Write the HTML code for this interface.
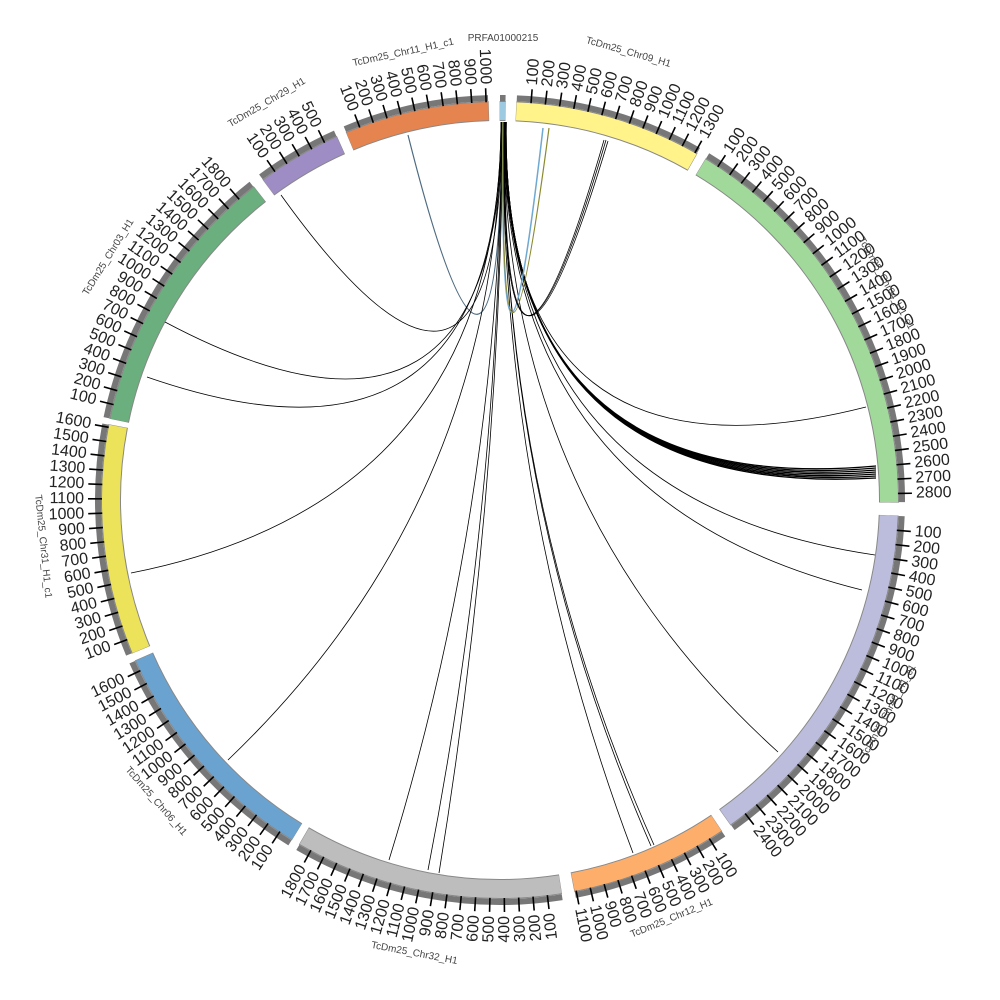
<!DOCTYPE html>
<html><head><meta charset="utf-8"><style>
html,body{margin:0;padding:0;background:#fff;width:1000px;height:1000px;overflow:hidden}
svg{display:block}
text{font-family:"Liberation Sans",sans-serif;fill:#222}
.R text,.L text{font-size:16px;dominant-baseline:central}
.R text{text-anchor:start}
.L text{text-anchor:end}
.nm{font-size:10px;fill:#444;text-anchor:middle}
.ch path{fill:none;stroke:#000;stroke-width:0.8}
</style></head><body>
<svg width="1000" height="1000" viewBox="0 0 1000 1000" xmlns="http://www.w3.org/2000/svg">
<defs><line id="tk" x1="500" y1="102" x2="500" y2="88" stroke="#000" stroke-width="1.6"/></defs>

<g fill="none" stroke="#888" stroke-width="20">
<circle cx="500" cy="500" r="389" stroke-dasharray="6 3000" transform="rotate(-90.05 500 500)"/>
<circle cx="500" cy="500" r="389" stroke-dasharray="185.5 3000" transform="rotate(-87.65 500 500)"/>
<circle cx="500" cy="500" r="389" stroke-dasharray="402.7 3000" transform="rotate(-58.95 500 500)"/>
<circle cx="500" cy="500" r="389" stroke-dasharray="355.9 3000" transform="rotate(2.25 500 500)"/>
<circle cx="500" cy="500" r="389" stroke-dasharray="156.9 3000" transform="rotate(56.15 500 500)"/>
<circle cx="500" cy="500" r="389" stroke-dasharray="266.3 3000" transform="rotate(81.05 500 500)"/>
<circle cx="500" cy="500" r="389" stroke-dasharray="236.4 3000" transform="rotate(121.45 500 500)"/>
<circle cx="500" cy="500" r="389" stroke-dasharray="228.2 3000" transform="rotate(157.35 500 500)"/>
<circle cx="500" cy="500" r="389" stroke-dasharray="272.4 3000" transform="rotate(191.75 500 500)"/>
<circle cx="500" cy="500" r="389" stroke-dasharray="84.3 3000" transform="rotate(233.45 500 500)"/>
<circle cx="500" cy="500" r="389" stroke-dasharray="143.4 3000" transform="rotate(247.25 500 500)"/>
</g>
<g fill="none" stroke-width="18">
<circle cx="500" cy="500" r="389" stroke="#9ecae1" stroke-dasharray="5.4 3000" transform="rotate(-90 500 500)"/>
<circle cx="500" cy="500" r="389" stroke="#fff38a" stroke-dasharray="184.7 3000" transform="rotate(-87.6 500 500)"/>
<circle cx="500" cy="500" r="389" stroke="#a1d99b" stroke-dasharray="401.9 3000" transform="rotate(-58.9 500 500)"/>
<circle cx="500" cy="500" r="389" stroke="#bcbddc" stroke-dasharray="355.1 3000" transform="rotate(2.3 500 500)"/>
<circle cx="500" cy="500" r="389" stroke="#fdae6b" stroke-dasharray="156.1 3000" transform="rotate(56.2 500 500)"/>
<circle cx="500" cy="500" r="389" stroke="#bdbdbd" stroke-dasharray="265.5 3000" transform="rotate(81.1 500 500)"/>
<circle cx="500" cy="500" r="389" stroke="#6ba3d0" stroke-dasharray="235.6 3000" transform="rotate(121.5 500 500)"/>
<circle cx="500" cy="500" r="389" stroke="#ede35a" stroke-dasharray="227.4 3000" transform="rotate(157.4 500 500)"/>
<circle cx="500" cy="500" r="389" stroke="#6aaf7d" stroke-dasharray="271.6 3000" transform="rotate(191.8 500 500)"/>
<circle cx="500" cy="500" r="389" stroke="#9e8cc4" stroke-dasharray="83.5 3000" transform="rotate(233.5 500 500)"/>
<circle cx="500" cy="500" r="389" stroke="#e6844f" stroke-dasharray="142.6 3000" transform="rotate(247.3 500 500)"/>
</g>
<g fill="none" stroke="#777" stroke-width="6">
<circle cx="500" cy="500" r="402" stroke-dasharray="5.6 3000" transform="rotate(-90 500 500)"/>
<circle cx="500" cy="500" r="402" stroke-dasharray="190.8 3000" transform="rotate(-87.6 500 500)"/>
<circle cx="500" cy="500" r="402" stroke-dasharray="415.3 3000" transform="rotate(-58.9 500 500)"/>
<circle cx="500" cy="500" r="402" stroke-dasharray="366.9 3000" transform="rotate(2.3 500 500)"/>
<circle cx="500" cy="500" r="402" stroke-dasharray="161.4 3000" transform="rotate(56.2 500 500)"/>
<circle cx="500" cy="500" r="402" stroke-dasharray="274.3 3000" transform="rotate(81.1 500 500)"/>
<circle cx="500" cy="500" r="402" stroke-dasharray="243.5 3000" transform="rotate(121.5 500 500)"/>
<circle cx="500" cy="500" r="402" stroke-dasharray="235 3000" transform="rotate(157.4 500 500)"/>
<circle cx="500" cy="500" r="402" stroke-dasharray="280.6 3000" transform="rotate(191.8 500 500)"/>
<circle cx="500" cy="500" r="402" stroke-dasharray="86.3 3000" transform="rotate(233.5 500 500)"/>
<circle cx="500" cy="500" r="402" stroke-dasharray="147.3 3000" transform="rotate(247.3 500 500)"/>
</g>

<g class="ch">
<path d="M408 135 Q500 500 502 122" style="stroke:#4d6a80;stroke-width:1.2"/>
<path d="M281 195 Q500 500 502 122"/>
<path d="M165 322 Q500 500 502 122"/>
<path d="M147 377 Q500 500 501 122"/>
<path d="M131 573 Q500 500 501 122"/>
<path d="M228 760 Q500 500 501 122"/>
<path d="M389 860 Q500 500 502 122"/>
<path d="M428 870 Q500 500 502 122"/>
<path d="M439 873 Q500 500 503 122"/>
<path d="M633 853 Q500 500 503 122"/>
<path d="M651 846 Q500 500 504 122"/>
<path d="M654 845 Q500 500 504 122"/>
<path d="M778 752 Q500 500 504 122"/>
<path d="M862 590 Q500 500 504 122"/>
<path d="M875 555 Q500 500 505 122"/>
<path d="M866 407 Q500 500 505 122"/>
<path d="M876 466 Q500 500 505 122" style="stroke-width:1.3"/>
<path d="M876 468 Q500 500 505 122" style="stroke-width:1.3"/>
<path d="M876 470 Q500 500 505 122" style="stroke-width:1.3"/>
<path d="M876 472 Q500 500 506 122" style="stroke-width:1.3"/>
<path d="M876 474 Q500 500 506 122" style="stroke-width:1.3"/>
<path d="M876 476 Q500 500 506 122" style="stroke-width:1.3"/>
<path d="M876 478 Q500 500 506 122" style="stroke-width:1.3"/>
<path d="M543 128 Q500 500 503 122" style="stroke:#6fa8d0;stroke-width:1.5"/>
<path d="M549 128 Q500 500 503 122" style="stroke:#8a8a30;stroke-width:1.2"/>
<path d="M604 140 Q500 500 504 122"/>
<path d="M606 140 Q500 500 504 122"/>
<path d="M608 141 Q500 500 505 122"/>
</g>

<g class="R" transform="rotate(2.4 500 500)">
<g transform="rotate(2.07 500 500)"><use href="#tk"/><text transform="translate(500,84) rotate(-90)">100</text></g>
<g transform="rotate(4.14 500 500)"><use href="#tk"/><text transform="translate(500,84) rotate(-90)">200</text></g>
<g transform="rotate(6.21 500 500)"><use href="#tk"/><text transform="translate(500,84) rotate(-90)">300</text></g>
<g transform="rotate(8.28 500 500)"><use href="#tk"/><text transform="translate(500,84) rotate(-90)">400</text></g>
<g transform="rotate(10.35 500 500)"><use href="#tk"/><text transform="translate(500,84) rotate(-90)">500</text></g>
<g transform="rotate(12.42 500 500)"><use href="#tk"/><text transform="translate(500,84) rotate(-90)">600</text></g>
<g transform="rotate(14.49 500 500)"><use href="#tk"/><text transform="translate(500,84) rotate(-90)">700</text></g>
<g transform="rotate(16.56 500 500)"><use href="#tk"/><text transform="translate(500,84) rotate(-90)">800</text></g>
<g transform="rotate(18.63 500 500)"><use href="#tk"/><text transform="translate(500,84) rotate(-90)">900</text></g>
<g transform="rotate(20.7 500 500)"><use href="#tk"/><text transform="translate(500,84) rotate(-90)">1000</text></g>
<g transform="rotate(22.77 500 500)"><use href="#tk"/><text transform="translate(500,84) rotate(-90)">1100</text></g>
<g transform="rotate(24.84 500 500)"><use href="#tk"/><text transform="translate(500,84) rotate(-90)">1200</text></g>
<g transform="rotate(26.91 500 500)"><use href="#tk"/><text transform="translate(500,84) rotate(-90)">1300</text></g>
</g>
<g class="R" transform="rotate(31.1 500 500)">
<g transform="rotate(2.07 500 500)"><use href="#tk"/><text transform="translate(500,84) rotate(-90)">100</text></g>
<g transform="rotate(4.14 500 500)"><use href="#tk"/><text transform="translate(500,84) rotate(-90)">200</text></g>
<g transform="rotate(6.21 500 500)"><use href="#tk"/><text transform="translate(500,84) rotate(-90)">300</text></g>
<g transform="rotate(8.28 500 500)"><use href="#tk"/><text transform="translate(500,84) rotate(-90)">400</text></g>
<g transform="rotate(10.35 500 500)"><use href="#tk"/><text transform="translate(500,84) rotate(-90)">500</text></g>
<g transform="rotate(12.42 500 500)"><use href="#tk"/><text transform="translate(500,84) rotate(-90)">600</text></g>
<g transform="rotate(14.49 500 500)"><use href="#tk"/><text transform="translate(500,84) rotate(-90)">700</text></g>
<g transform="rotate(16.56 500 500)"><use href="#tk"/><text transform="translate(500,84) rotate(-90)">800</text></g>
<g transform="rotate(18.63 500 500)"><use href="#tk"/><text transform="translate(500,84) rotate(-90)">900</text></g>
<g transform="rotate(20.7 500 500)"><use href="#tk"/><text transform="translate(500,84) rotate(-90)">1000</text></g>
<g transform="rotate(22.77 500 500)"><use href="#tk"/><text transform="translate(500,84) rotate(-90)">1100</text></g>
<g transform="rotate(24.84 500 500)"><use href="#tk"/><text transform="translate(500,84) rotate(-90)">1200</text></g>
<g transform="rotate(26.91 500 500)"><use href="#tk"/><text transform="translate(500,84) rotate(-90)">1300</text></g>
<g transform="rotate(28.98 500 500)"><use href="#tk"/><text transform="translate(500,84) rotate(-90)">1400</text></g>
<g transform="rotate(31.05 500 500)"><use href="#tk"/><text transform="translate(500,84) rotate(-90)">1500</text></g>
<g transform="rotate(33.12 500 500)"><use href="#tk"/><text transform="translate(500,84) rotate(-90)">1600</text></g>
<g transform="rotate(35.19 500 500)"><use href="#tk"/><text transform="translate(500,84) rotate(-90)">1700</text></g>
<g transform="rotate(37.26 500 500)"><use href="#tk"/><text transform="translate(500,84) rotate(-90)">1800</text></g>
<g transform="rotate(39.33 500 500)"><use href="#tk"/><text transform="translate(500,84) rotate(-90)">1900</text></g>
<g transform="rotate(41.4 500 500)"><use href="#tk"/><text transform="translate(500,84) rotate(-90)">2000</text></g>
<g transform="rotate(43.47 500 500)"><use href="#tk"/><text transform="translate(500,84) rotate(-90)">2100</text></g>
<g transform="rotate(45.54 500 500)"><use href="#tk"/><text transform="translate(500,84) rotate(-90)">2200</text></g>
<g transform="rotate(47.61 500 500)"><use href="#tk"/><text transform="translate(500,84) rotate(-90)">2300</text></g>
<g transform="rotate(49.68 500 500)"><use href="#tk"/><text transform="translate(500,84) rotate(-90)">2400</text></g>
<g transform="rotate(51.75 500 500)"><use href="#tk"/><text transform="translate(500,84) rotate(-90)">2500</text></g>
<g transform="rotate(53.82 500 500)"><use href="#tk"/><text transform="translate(500,84) rotate(-90)">2600</text></g>
<g transform="rotate(55.89 500 500)"><use href="#tk"/><text transform="translate(500,84) rotate(-90)">2700</text></g>
<g transform="rotate(57.96 500 500)"><use href="#tk"/><text transform="translate(500,84) rotate(-90)">2800</text></g>
</g>
<g class="R" transform="rotate(92.3 500 500)">
<g transform="rotate(2.07 500 500)"><use href="#tk"/><text transform="translate(500,84) rotate(-90)">100</text></g>
<g transform="rotate(4.14 500 500)"><use href="#tk"/><text transform="translate(500,84) rotate(-90)">200</text></g>
<g transform="rotate(6.21 500 500)"><use href="#tk"/><text transform="translate(500,84) rotate(-90)">300</text></g>
<g transform="rotate(8.28 500 500)"><use href="#tk"/><text transform="translate(500,84) rotate(-90)">400</text></g>
<g transform="rotate(10.35 500 500)"><use href="#tk"/><text transform="translate(500,84) rotate(-90)">500</text></g>
<g transform="rotate(12.42 500 500)"><use href="#tk"/><text transform="translate(500,84) rotate(-90)">600</text></g>
<g transform="rotate(14.49 500 500)"><use href="#tk"/><text transform="translate(500,84) rotate(-90)">700</text></g>
<g transform="rotate(16.56 500 500)"><use href="#tk"/><text transform="translate(500,84) rotate(-90)">800</text></g>
<g transform="rotate(18.63 500 500)"><use href="#tk"/><text transform="translate(500,84) rotate(-90)">900</text></g>
<g transform="rotate(20.7 500 500)"><use href="#tk"/><text transform="translate(500,84) rotate(-90)">1000</text></g>
<g transform="rotate(22.77 500 500)"><use href="#tk"/><text transform="translate(500,84) rotate(-90)">1100</text></g>
<g transform="rotate(24.84 500 500)"><use href="#tk"/><text transform="translate(500,84) rotate(-90)">1200</text></g>
<g transform="rotate(26.91 500 500)"><use href="#tk"/><text transform="translate(500,84) rotate(-90)">1300</text></g>
<g transform="rotate(28.98 500 500)"><use href="#tk"/><text transform="translate(500,84) rotate(-90)">1400</text></g>
<g transform="rotate(31.05 500 500)"><use href="#tk"/><text transform="translate(500,84) rotate(-90)">1500</text></g>
<g transform="rotate(33.12 500 500)"><use href="#tk"/><text transform="translate(500,84) rotate(-90)">1600</text></g>
<g transform="rotate(35.19 500 500)"><use href="#tk"/><text transform="translate(500,84) rotate(-90)">1700</text></g>
<g transform="rotate(37.26 500 500)"><use href="#tk"/><text transform="translate(500,84) rotate(-90)">1800</text></g>
<g transform="rotate(39.33 500 500)"><use href="#tk"/><text transform="translate(500,84) rotate(-90)">1900</text></g>
<g transform="rotate(41.4 500 500)"><use href="#tk"/><text transform="translate(500,84) rotate(-90)">2000</text></g>
<g transform="rotate(43.47 500 500)"><use href="#tk"/><text transform="translate(500,84) rotate(-90)">2100</text></g>
<g transform="rotate(45.54 500 500)"><use href="#tk"/><text transform="translate(500,84) rotate(-90)">2200</text></g>
<g transform="rotate(47.61 500 500)"><use href="#tk"/><text transform="translate(500,84) rotate(-90)">2300</text></g>
<g transform="rotate(49.68 500 500)"><use href="#tk"/><text transform="translate(500,84) rotate(-90)">2400</text></g>
</g>
<g class="R" transform="rotate(146.2 500 500)">
<g transform="rotate(2.07 500 500)"><use href="#tk"/><text transform="translate(500,84) rotate(-90)">100</text></g>
<g transform="rotate(4.14 500 500)"><use href="#tk"/><text transform="translate(500,84) rotate(-90)">200</text></g>
<g transform="rotate(6.21 500 500)"><use href="#tk"/><text transform="translate(500,84) rotate(-90)">300</text></g>
<g transform="rotate(8.28 500 500)"><use href="#tk"/><text transform="translate(500,84) rotate(-90)">400</text></g>
<g transform="rotate(10.35 500 500)"><use href="#tk"/><text transform="translate(500,84) rotate(-90)">500</text></g>
<g transform="rotate(12.42 500 500)"><use href="#tk"/><text transform="translate(500,84) rotate(-90)">600</text></g>
<g transform="rotate(14.49 500 500)"><use href="#tk"/><text transform="translate(500,84) rotate(-90)">700</text></g>
<g transform="rotate(16.56 500 500)"><use href="#tk"/><text transform="translate(500,84) rotate(-90)">800</text></g>
<g transform="rotate(18.63 500 500)"><use href="#tk"/><text transform="translate(500,84) rotate(-90)">900</text></g>
<g transform="rotate(20.7 500 500)"><use href="#tk"/><text transform="translate(500,84) rotate(-90)">1000</text></g>
<g transform="rotate(22.77 500 500)"><use href="#tk"/><text transform="translate(500,84) rotate(-90)">1100</text></g>
</g>
<g class="L" transform="rotate(171.1 500 500)">
<g transform="rotate(2.07 500 500)"><use href="#tk"/><text transform="translate(500,84) rotate(90)">100</text></g>
<g transform="rotate(4.14 500 500)"><use href="#tk"/><text transform="translate(500,84) rotate(90)">200</text></g>
<g transform="rotate(6.21 500 500)"><use href="#tk"/><text transform="translate(500,84) rotate(90)">300</text></g>
<g transform="rotate(8.28 500 500)"><use href="#tk"/><text transform="translate(500,84) rotate(90)">400</text></g>
<g transform="rotate(10.35 500 500)"><use href="#tk"/><text transform="translate(500,84) rotate(90)">500</text></g>
<g transform="rotate(12.42 500 500)"><use href="#tk"/><text transform="translate(500,84) rotate(90)">600</text></g>
<g transform="rotate(14.49 500 500)"><use href="#tk"/><text transform="translate(500,84) rotate(90)">700</text></g>
<g transform="rotate(16.56 500 500)"><use href="#tk"/><text transform="translate(500,84) rotate(90)">800</text></g>
<g transform="rotate(18.63 500 500)"><use href="#tk"/><text transform="translate(500,84) rotate(90)">900</text></g>
<g transform="rotate(20.7 500 500)"><use href="#tk"/><text transform="translate(500,84) rotate(90)">1000</text></g>
<g transform="rotate(22.77 500 500)"><use href="#tk"/><text transform="translate(500,84) rotate(90)">1100</text></g>
<g transform="rotate(24.84 500 500)"><use href="#tk"/><text transform="translate(500,84) rotate(90)">1200</text></g>
<g transform="rotate(26.91 500 500)"><use href="#tk"/><text transform="translate(500,84) rotate(90)">1300</text></g>
<g transform="rotate(28.98 500 500)"><use href="#tk"/><text transform="translate(500,84) rotate(90)">1400</text></g>
<g transform="rotate(31.05 500 500)"><use href="#tk"/><text transform="translate(500,84) rotate(90)">1500</text></g>
<g transform="rotate(33.12 500 500)"><use href="#tk"/><text transform="translate(500,84) rotate(90)">1600</text></g>
<g transform="rotate(35.19 500 500)"><use href="#tk"/><text transform="translate(500,84) rotate(90)">1700</text></g>
<g transform="rotate(37.26 500 500)"><use href="#tk"/><text transform="translate(500,84) rotate(90)">1800</text></g>
</g>
<g class="L" transform="rotate(211.5 500 500)">
<g transform="rotate(2.07 500 500)"><use href="#tk"/><text transform="translate(500,84) rotate(90)">100</text></g>
<g transform="rotate(4.14 500 500)"><use href="#tk"/><text transform="translate(500,84) rotate(90)">200</text></g>
<g transform="rotate(6.21 500 500)"><use href="#tk"/><text transform="translate(500,84) rotate(90)">300</text></g>
<g transform="rotate(8.28 500 500)"><use href="#tk"/><text transform="translate(500,84) rotate(90)">400</text></g>
<g transform="rotate(10.35 500 500)"><use href="#tk"/><text transform="translate(500,84) rotate(90)">500</text></g>
<g transform="rotate(12.42 500 500)"><use href="#tk"/><text transform="translate(500,84) rotate(90)">600</text></g>
<g transform="rotate(14.49 500 500)"><use href="#tk"/><text transform="translate(500,84) rotate(90)">700</text></g>
<g transform="rotate(16.56 500 500)"><use href="#tk"/><text transform="translate(500,84) rotate(90)">800</text></g>
<g transform="rotate(18.63 500 500)"><use href="#tk"/><text transform="translate(500,84) rotate(90)">900</text></g>
<g transform="rotate(20.7 500 500)"><use href="#tk"/><text transform="translate(500,84) rotate(90)">1000</text></g>
<g transform="rotate(22.77 500 500)"><use href="#tk"/><text transform="translate(500,84) rotate(90)">1100</text></g>
<g transform="rotate(24.84 500 500)"><use href="#tk"/><text transform="translate(500,84) rotate(90)">1200</text></g>
<g transform="rotate(26.91 500 500)"><use href="#tk"/><text transform="translate(500,84) rotate(90)">1300</text></g>
<g transform="rotate(28.98 500 500)"><use href="#tk"/><text transform="translate(500,84) rotate(90)">1400</text></g>
<g transform="rotate(31.05 500 500)"><use href="#tk"/><text transform="translate(500,84) rotate(90)">1500</text></g>
<g transform="rotate(33.12 500 500)"><use href="#tk"/><text transform="translate(500,84) rotate(90)">1600</text></g>
</g>
<g class="L" transform="rotate(247.4 500 500)">
<g transform="rotate(2.07 500 500)"><use href="#tk"/><text transform="translate(500,84) rotate(90)">100</text></g>
<g transform="rotate(4.14 500 500)"><use href="#tk"/><text transform="translate(500,84) rotate(90)">200</text></g>
<g transform="rotate(6.21 500 500)"><use href="#tk"/><text transform="translate(500,84) rotate(90)">300</text></g>
<g transform="rotate(8.28 500 500)"><use href="#tk"/><text transform="translate(500,84) rotate(90)">400</text></g>
<g transform="rotate(10.35 500 500)"><use href="#tk"/><text transform="translate(500,84) rotate(90)">500</text></g>
<g transform="rotate(12.42 500 500)"><use href="#tk"/><text transform="translate(500,84) rotate(90)">600</text></g>
<g transform="rotate(14.49 500 500)"><use href="#tk"/><text transform="translate(500,84) rotate(90)">700</text></g>
<g transform="rotate(16.56 500 500)"><use href="#tk"/><text transform="translate(500,84) rotate(90)">800</text></g>
<g transform="rotate(18.63 500 500)"><use href="#tk"/><text transform="translate(500,84) rotate(90)">900</text></g>
<g transform="rotate(20.7 500 500)"><use href="#tk"/><text transform="translate(500,84) rotate(90)">1000</text></g>
<g transform="rotate(22.77 500 500)"><use href="#tk"/><text transform="translate(500,84) rotate(90)">1100</text></g>
<g transform="rotate(24.84 500 500)"><use href="#tk"/><text transform="translate(500,84) rotate(90)">1200</text></g>
<g transform="rotate(26.91 500 500)"><use href="#tk"/><text transform="translate(500,84) rotate(90)">1300</text></g>
<g transform="rotate(28.98 500 500)"><use href="#tk"/><text transform="translate(500,84) rotate(90)">1400</text></g>
<g transform="rotate(31.05 500 500)"><use href="#tk"/><text transform="translate(500,84) rotate(90)">1500</text></g>
<g transform="rotate(33.12 500 500)"><use href="#tk"/><text transform="translate(500,84) rotate(90)">1600</text></g>
</g>
<g class="L" transform="rotate(281.8 500 500)">
<g transform="rotate(2.07 500 500)"><use href="#tk"/><text transform="translate(500,84) rotate(90)">100</text></g>
<g transform="rotate(4.14 500 500)"><use href="#tk"/><text transform="translate(500,84) rotate(90)">200</text></g>
<g transform="rotate(6.21 500 500)"><use href="#tk"/><text transform="translate(500,84) rotate(90)">300</text></g>
<g transform="rotate(8.28 500 500)"><use href="#tk"/><text transform="translate(500,84) rotate(90)">400</text></g>
<g transform="rotate(10.35 500 500)"><use href="#tk"/><text transform="translate(500,84) rotate(90)">500</text></g>
<g transform="rotate(12.42 500 500)"><use href="#tk"/><text transform="translate(500,84) rotate(90)">600</text></g>
<g transform="rotate(14.49 500 500)"><use href="#tk"/><text transform="translate(500,84) rotate(90)">700</text></g>
<g transform="rotate(16.56 500 500)"><use href="#tk"/><text transform="translate(500,84) rotate(90)">800</text></g>
<g transform="rotate(18.63 500 500)"><use href="#tk"/><text transform="translate(500,84) rotate(90)">900</text></g>
<g transform="rotate(20.7 500 500)"><use href="#tk"/><text transform="translate(500,84) rotate(90)">1000</text></g>
<g transform="rotate(22.77 500 500)"><use href="#tk"/><text transform="translate(500,84) rotate(90)">1100</text></g>
<g transform="rotate(24.84 500 500)"><use href="#tk"/><text transform="translate(500,84) rotate(90)">1200</text></g>
<g transform="rotate(26.91 500 500)"><use href="#tk"/><text transform="translate(500,84) rotate(90)">1300</text></g>
<g transform="rotate(28.98 500 500)"><use href="#tk"/><text transform="translate(500,84) rotate(90)">1400</text></g>
<g transform="rotate(31.05 500 500)"><use href="#tk"/><text transform="translate(500,84) rotate(90)">1500</text></g>
<g transform="rotate(33.12 500 500)"><use href="#tk"/><text transform="translate(500,84) rotate(90)">1600</text></g>
<g transform="rotate(35.19 500 500)"><use href="#tk"/><text transform="translate(500,84) rotate(90)">1700</text></g>
<g transform="rotate(37.26 500 500)"><use href="#tk"/><text transform="translate(500,84) rotate(90)">1800</text></g>
</g>
<g class="L" transform="rotate(323.5 500 500)">
<g transform="rotate(2.07 500 500)"><use href="#tk"/><text transform="translate(500,84) rotate(90)">100</text></g>
<g transform="rotate(4.14 500 500)"><use href="#tk"/><text transform="translate(500,84) rotate(90)">200</text></g>
<g transform="rotate(6.21 500 500)"><use href="#tk"/><text transform="translate(500,84) rotate(90)">300</text></g>
<g transform="rotate(8.28 500 500)"><use href="#tk"/><text transform="translate(500,84) rotate(90)">400</text></g>
<g transform="rotate(10.35 500 500)"><use href="#tk"/><text transform="translate(500,84) rotate(90)">500</text></g>
</g>
<g class="L" transform="rotate(337.3 500 500)">
<g transform="rotate(2.07 500 500)"><use href="#tk"/><text transform="translate(500,84) rotate(90)">100</text></g>
<g transform="rotate(4.14 500 500)"><use href="#tk"/><text transform="translate(500,84) rotate(90)">200</text></g>
<g transform="rotate(6.21 500 500)"><use href="#tk"/><text transform="translate(500,84) rotate(90)">300</text></g>
<g transform="rotate(8.28 500 500)"><use href="#tk"/><text transform="translate(500,84) rotate(90)">400</text></g>
<g transform="rotate(10.35 500 500)"><use href="#tk"/><text transform="translate(500,84) rotate(90)">500</text></g>
<g transform="rotate(12.42 500 500)"><use href="#tk"/><text transform="translate(500,84) rotate(90)">600</text></g>
<g transform="rotate(14.49 500 500)"><use href="#tk"/><text transform="translate(500,84) rotate(90)">700</text></g>
<g transform="rotate(16.56 500 500)"><use href="#tk"/><text transform="translate(500,84) rotate(90)">800</text></g>
<g transform="rotate(18.63 500 500)"><use href="#tk"/><text transform="translate(500,84) rotate(90)">900</text></g>
<g transform="rotate(20.7 500 500)"><use href="#tk"/><text transform="translate(500,84) rotate(90)">1000</text></g>
</g>

<text class="nm" x="503" y="41">PRFA01000215</text>
<text class="nm" x="500" y="37" transform="rotate(16 500 500)">TcDm25_Chr09_H1</text>
<text class="nm" x="500" y="60" transform="rotate(60.7 500 500)">TcDm25_Chr04_H1_c1</text>
<text class="nm" x="500" y="945" transform="rotate(-61.5 500 500)">TcDm25_Chr40_H1_c1</text>
<text class="nm" x="500" y="955" transform="rotate(-22.3 500 500)">TcDm25_Chr12_H1</text>
<text class="nm" x="500" y="964" transform="rotate(10.7 500 500)">TcDm25_Chr32_H1</text>
<text class="nm" x="500" y="960" transform="rotate(48.8 500 500)">TcDm25_Chr06_H1</text>
<text class="nm" x="500" y="962" transform="rotate(84.2 500 500)">TcDm25_Chr31_H1_c1</text>
<text class="nm" x="500" y="42" transform="rotate(301.8 500 500)">TcDm25_Chr03_H1</text>
<text class="nm" x="500" y="42" transform="rotate(329.6 500 500)">TcDm25_Chr29_H1</text>
<text class="nm" x="500" y="45" transform="rotate(347.8 500 500)">TcDm25_Chr11_H1_c1</text>
</svg>
</body></html>
